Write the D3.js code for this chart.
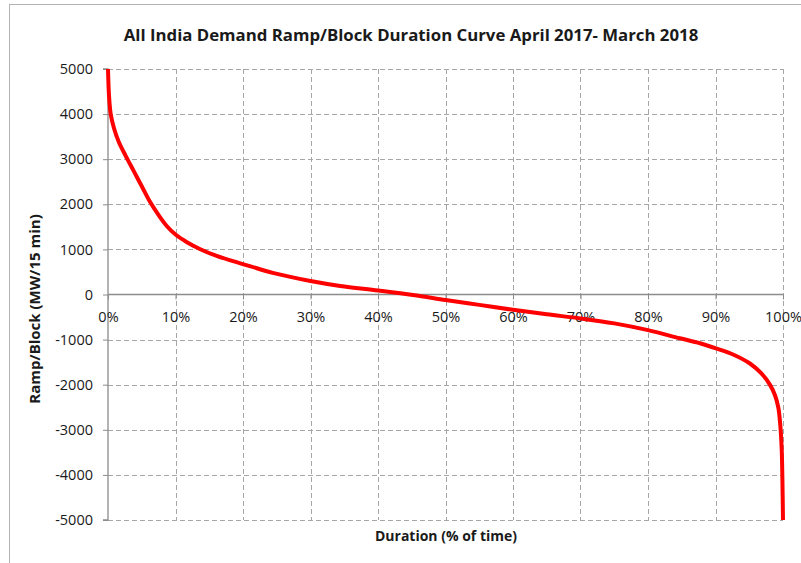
<!DOCTYPE html>
<html>
<head>
<meta charset="utf-8">
<script src="https://cdn.jsdelivr.net/npm/d3@7"></script>
<style>
  html, body { margin: 0; padding: 0; background: #fff; }
  svg { display: block; }
  text { font-family: "Open Sans", "Liberation Sans", sans-serif; fill: #1a1a1a; }
</style>
</head>
<body>
<svg id="chart" width="801" height="563"></svg>
<script>
const title = "All India Demand Ramp/Block Duration Curve April 2017- March 2018";
const xTitle = "Duration (% of time)";
const yTitle = "Ramp/Block (MW/15 min)";

const xTicks = [0, 10, 20, 30, 40, 50, 60, 70, 80, 90, 100];
const yTicks = [5000, 4000, 3000, 2000, 1000, 0, -1000, -2000, -3000, -4000, -5000];

// duration (% of time) and ramp/block (MW per 15 min)
const duration = [0, 0.1, 0.2, 0.4, 0.9, 1.6, 2.6, 3.8, 5.0, 6.2, 7.5, 8.7, 10, 11.7, 13.6, 16, 18.5, 21, 24.4, 30, 34.4, 40, 45.2, 50, 55, 60, 65, 70, 75, 80, 84.7, 87.7, 90.2, 92.6, 95.1, 96.8, 98.1, 98.8, 99.3, 99.6, 99.8, 99.9, 100];
const ramp = [5000, 4550, 4300, 4000, 3680, 3380, 3080, 2740, 2400, 2060, 1760, 1520, 1330, 1160, 1010, 860, 740, 630, 480, 300, 190, 90, -10, -120, -230, -340, -440, -530, -640, -790, -970, -1080, -1200, -1330, -1530, -1750, -2010, -2230, -2500, -2900, -3400, -4000, -5000];

const svg = d3.select("#chart");
const W = 801, H = 563;
const mLeft = 108, mRight = 783, mTop = 69, mBottom = 520;

// outer frame
svg.append("rect")
  .attr("x", 9.5).attr("y", 4.5)
  .attr("width", W).attr("height", H)
  .attr("fill", "none").attr("stroke", "#b3b3b3").attr("stroke-width", 1);

const x = d3.scaleLinear().domain([0, 100]).range([mLeft, mRight]);
const y = d3.scaleLinear().domain([-5000, 5000]).range([mBottom, mTop]);

const gridColor = "#a6a6a6";
const dash = "5,3";

// horizontal gridlines
svg.append("g").selectAll("line")
  .data(yTicks.filter(d => d !== 0))
  .join("line")
  .attr("x1", x(0)).attr("x2", x(100))
  .attr("y1", d => Math.round(y(d)) + 0.5).attr("y2", d => Math.round(y(d)) + 0.5)
  .attr("stroke", gridColor).attr("stroke-width", 1).attr("stroke-dasharray", dash);

// vertical gridlines
svg.append("g").selectAll("line")
  .data(xTicks.filter(d => d !== 0))
  .join("line")
  .attr("x1", d => Math.round(x(d)) + 0.5).attr("x2", d => Math.round(x(d)) + 0.5)
  .attr("y1", y(5000)).attr("y2", y(-5000))
  .attr("stroke", gridColor).attr("stroke-width", 1).attr("stroke-dasharray", dash);

// y axis
const yAxis = d3.axisLeft(y).tickValues(yTicks).tickSize(5).tickPadding(10).tickFormat(d => String(d));
const gy = svg.append("g").attr("transform", `translate(${x(0)},0)`).call(yAxis);
gy.select(".domain").attr("stroke", "#8c8c8c").attr("stroke-width", 1.3).attr("d", `M-5,${y(5000)}H0V${y(-5000)}H-5`);
gy.selectAll(".tick line").attr("stroke", "#8c8c8c");
gy.selectAll(".tick text").attr("font-size", "14.5px").attr("fill", "#1a1a1a")
  .attr("font-family", '"Open Sans", sans-serif');

// x axis at y = 0
const xAxis = d3.axisBottom(x).tickValues(xTicks).tickSize(5).tickPadding(12).tickFormat(d => d + "%");
const gx = svg.append("g").attr("transform", `translate(0,${y(0)})`).call(xAxis);
gx.select(".domain").attr("stroke", "#8c8c8c").attr("stroke-width", 1.3).attr("d", `M${x(0)},0H${x(100)}`);
gx.selectAll(".tick line").attr("stroke", "#8c8c8c");
gx.selectAll(".tick text").attr("font-size", "14.5px").attr("fill", "#1a1a1a")
  .attr("font-family", '"Open Sans", sans-serif');

// curve
const pts = duration.map((d, i) => [d, ramp[i]]);
const line = d3.line()
  .x(d => x(d[0]))
  .y(d => y(d[1]))
  .curve(d3.curveCatmullRom.alpha(0.5));
svg.append("path")
  .datum(pts)
  .attr("d", line)
  .attr("fill", "none")
  .attr("stroke", "#ff0000")
  .attr("stroke-width", 4)
  .attr("stroke-linejoin", "round");

// titles
svg.append("text")
  .attr("x", 411).attr("y", 41)
  .attr("text-anchor", "middle")
  .attr("font-size", "16.8px").attr("font-weight", "bold")
  .text(title);

svg.append("text")
  .attr("x", 446).attr("y", 541)
  .attr("text-anchor", "middle")
  .attr("font-size", "14px").attr("font-weight", "bold")
  .text(xTitle);

svg.append("text")
  .attr("transform", "translate(40,309) rotate(-90)")
  .attr("text-anchor", "middle")
  .attr("font-size", "15px").attr("font-weight", "bold")
  .text(yTitle);
</script>
</body>
</html>
